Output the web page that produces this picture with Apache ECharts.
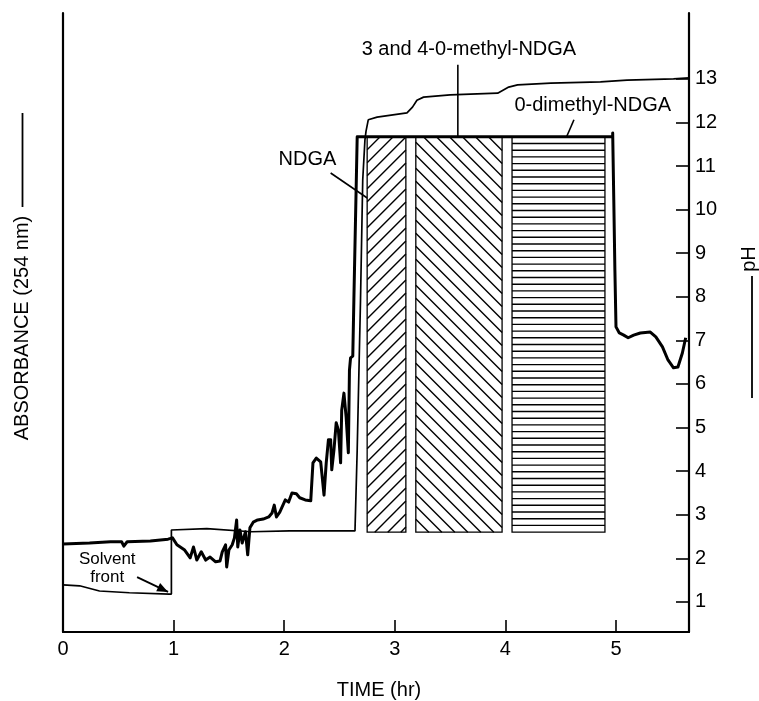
<!DOCTYPE html>
<html>
<head>
<meta charset="utf-8">
<script src="https://cdn.jsdelivr.net/npm/echarts@6/dist/echarts.min.js"></script>
<style>html,body{margin:0;padding:0;background:#fff}#c{width:759px;height:701px}</style>
</head>
<body>
<div id="c"></div>
<script>
// ---------- data ----------
const timeTicks = [0, 1, 2, 3, 4, 5];
const pHTicks = [1, 2, 3, 4, 5, 6, 7, 8, 9, 10, 11, 12, 13];

// absorbance trace (arbitrary units, read on the pH scale)
const absorbanceTrace = [
  [0, 2.33], [0.24, 2.35], [0.43, 2.38], [0.53, 2.38], [0.55, 2.28], [0.58, 2.38],
  [0.79, 2.40], [0.95, 2.44], [0.99, 2.47], [1.03, 2.31], [1.10, 2.19], [1.15, 2.01],
  [1.18, 2.26], [1.21, 1.96], [1.25, 2.15], [1.29, 1.96], [1.33, 2.03], [1.38, 1.92],
  [1.42, 1.94], [1.44, 2.15], [1.47, 2.31], [1.48, 1.80], [1.50, 2.19], [1.53, 2.31],
  [1.55, 2.47], [1.57, 2.88], [1.58, 2.26], [1.60, 2.65], [1.62, 2.35], [1.65, 2.61],
  [1.67, 2.08], [1.69, 2.70], [1.72, 2.83], [1.76, 2.88], [1.81, 2.90], [1.86, 2.95],
  [1.89, 3.04], [1.91, 3.22], [1.93, 2.95], [1.96, 3.06], [2.01, 3.34], [2.04, 3.29],
  [2.07, 3.50], [2.11, 3.48], [2.14, 3.39], [2.19, 3.34], [2.24, 3.32], [2.26, 4.19],
  [2.29, 4.30], [2.33, 4.21], [2.34, 3.96], [2.36, 3.45], [2.38, 4.19], [2.40, 4.72],
  [2.42, 4.72], [2.43, 4.03], [2.45, 4.49], [2.47, 5.11], [2.49, 4.94], [2.51, 4.19],
  [2.52, 5.40], [2.54, 5.79], [2.56, 5.24], [2.58, 4.42], [2.59, 6.32], [2.60, 6.60],
  [2.62, 6.64], [2.63, 7.93], [2.66, 11.67], [4.97, 11.67], [4.97, 11.76], [4.98, 10.22],
  [4.99, 8.61], [5.00, 7.31], [5.03, 7.17], [5.07, 7.12], [5.11, 7.06], [5.16, 7.12],
  [5.22, 7.17], [5.31, 7.19], [5.36, 7.08], [5.42, 6.85], [5.47, 6.55], [5.52, 6.37],
  [5.56, 6.39], [5.60, 6.71], [5.63, 7.06]
];

// pH trace
const pHTrace = [
  [0, 1.39], [0.15, 1.37], [0.33, 1.25], [0.60, 1.21], [0.96, 1.18], [0.98, 1.18],
  [0.98, 2.65], [1.30, 2.68], [1.70, 2.61], [2.05, 2.63], [2.64, 2.63],
  [2.66, 4.49], [2.69, 7.93], [2.71, 10.68], [2.73, 11.60], [2.74, 11.80], [2.76, 12.06],
  [2.84, 12.12], [3.11, 12.22], [3.16, 12.35], [3.20, 12.51], [3.26, 12.58], [3.50, 12.63],
  [3.93, 12.67], [4.03, 12.81], [4.11, 12.86], [4.41, 12.90], [4.86, 12.93], [5.10, 12.97],
  [5.52, 13.00], [5.66, 13.02]
];

// collected fractions (time window and drawn band)
const fractionNames = ['NDGA', '3 and 4-0-methyl-NDGA', '0-dimethyl-NDGA'];
const fractionStart = [2.75, 3.19, 4.06];
const fractionEnd = [3.10, 3.97, 4.90];
const fractionLow = [2.6, 2.6, 2.6];
const fractionHigh = [11.67, 11.67, 11.67];

// annotation anchors (data units)
const labelAnchors = [[2.21, 11.14], [3.67, 13.68], [4.79, 12.38]];
const leaderStart = [[2.42, 10.84], [3.57, 13.32], [4.62, 12.06]];
const leaderEnd = [[2.87, 10.06], [3.57, 11.25], [4.43, 10.95]];
const solventText = 'Solvent\nfront';
const solventAnchor = [0.40, 1.76];
const solventArrow = [[0.67, 1.57], [0.95, 1.23]];

// ---------- styles ----------
const FONT = 'Liberation Sans, Arial, Helvetica, sans-serif';
const hatchKinds = ['fwd', 'back', 'horiz'];

const chart = echarts.init(document.getElementById('c'));

const fractionData = fractionStart.map((s, i) => [s, fractionEnd[i], fractionLow[i], fractionHigh[i]]);

function renderFraction(params, api) {
  const p0 = api.coord([api.value(0), api.value(3)]);
  const p1 = api.coord([api.value(1), api.value(2)]);
  const x0 = p0[0], y0 = p0[1], x1 = p1[0], y1 = p1[1];
  const kind = hatchKinds[params.dataIndex];
  const children = [{
    type: 'rect', shape: {x: x0, y: y0, width: x1 - x0, height: y1 - y0},
    style: {fill: '#fff', stroke: '#000', lineWidth: 1.3}
  }];
  const ls = {stroke: '#000', lineWidth: 1.4};
  if (kind === 'horiz') {
    const s = 6.7;
    for (let y = y0 + s; y < y1 - 1; y += s) {
      children.push({type: 'line', shape: {x1: x0, y1: y, x2: x1, y2: y}, style: ls});
    }
  } else if (kind === 'fwd') {
    const s = 13;
    for (let c = x0 + y0 + s; c < x1 + y1; c += s) {
      const xa = Math.max(x0, c - y1), xb = Math.min(x1, c - y0);
      if (xa < xb) children.push({type: 'line', shape: {x1: xa, y1: c - xa, x2: xb, y2: c - xb}, style: ls});
    }
  } else {
    const s = 13;
    for (let c = x0 - y1 + s; c < x1 - y0; c += s) {
      const xa = Math.max(x0, y0 + c), xb = Math.min(x1, y1 + c);
      if (xa < xb) children.push({type: 'line', shape: {x1: xa, y1: xa - c, x2: xb, y2: xb - c}, style: ls});
    }
  }
  return {type: 'group', children: children};
}

const yMin = 0.31, yMax = 14.51;

chart.setOption({
  backgroundColor: '#fff',
  animation: false,
  grid: {left: 63, right: 70, top: 13, bottom: 69},
  xAxis: {
    type: 'value', min: 0, max: 5.66,
    axisLine: {show: true, onZero: false, lineStyle: {color: '#000', width: 2.2}},
    axisTick: {show: true, inside: true, length: 12, customValues: timeTicks.slice(1), lineStyle: {color: '#000', width: 1.6}},
    axisLabel: {customValues: timeTicks, color: '#000', fontSize: 20, fontFamily: FONT, margin: 7},
    splitLine: {show: false}
  },
  yAxis: [{
    type: 'value', position: 'right', min: yMin, max: yMax,
    axisLine: {show: true, onZero: false, lineStyle: {color: '#000', width: 2.2}},
    axisTick: {show: true, inside: true, length: 13, customValues: pHTicks, lineStyle: {color: '#000', width: 1.6}},
    axisLabel: {customValues: pHTicks, color: '#000', fontSize: 20, fontFamily: FONT, margin: 6},
    splitLine: {show: false}
  }, {
    type: 'value', position: 'left', min: yMin, max: yMax,
    axisLine: {show: true, onZero: false, lineStyle: {color: '#000', width: 2.2}},
    axisTick: {show: false}, axisLabel: {show: false}, splitLine: {show: false}
  }],
  series: [{
    type: 'custom', name: 'fractions', renderItem: renderFraction,
    data: fractionData, encode: {x: [0, 1], y: [2, 3]}, z: 1, silent: true
  }, {
    type: 'line', name: 'pH', yAxisIndex: 0, data: pHTrace, showSymbol: false, symbol: 'none',
    lineStyle: {color: '#000', width: 1.7}, z: 2
  }, {
    type: 'line', name: 'Absorbance', yAxisIndex: 1, data: absorbanceTrace, showSymbol: false, symbol: 'none',
    lineStyle: {color: '#000', width: 3, join: 'round'}, z: 3
  }]
});

// ---------- annotations ----------
const px = p => chart.convertToPixel({xAxisIndex: 0, yAxisIndex: 0}, p);
const g = [];
fractionNames.forEach((name, i) => {
  const a = px(labelAnchors[i]);
  g.push({type: 'text', x: a[0], y: a[1], style: {text: name, font: '20px ' + FONT, fill: '#000', align: 'center', verticalAlign: 'middle'}});
  const s = px(leaderStart[i]), e = px(leaderEnd[i]);
  g.push({type: 'line', shape: {x1: s[0], y1: s[1], x2: e[0], y2: e[1]}, style: {stroke: '#000', lineWidth: 1.6}});
});
const sa = px(solventAnchor);
g.push({type: 'text', x: sa[0], y: sa[1], style: {text: solventText, font: '17px ' + FONT, fill: '#000', align: 'center', verticalAlign: 'middle', lineHeight: 18}});
const as = px(solventArrow[0]), ae = px(solventArrow[1]);
g.push({type: 'line', shape: {x1: as[0], y1: as[1], x2: ae[0], y2: ae[1]}, style: {stroke: '#000', lineWidth: 1.8}});
(function () {
  const dx = ae[0] - as[0], dy = ae[1] - as[1], L = Math.hypot(dx, dy);
  const ux = dx / L, uy = dy / L, h = 11, w = 4.5;
  const bx = ae[0] - ux * h, by = ae[1] - uy * h;
  g.push({type: 'polygon', shape: {points: [[ae[0], ae[1]], [bx - uy * w, by + ux * w], [bx + uy * w, by - ux * w]]}, style: {fill: '#000'}});
})();
// axis titles
g.push({type: 'text', x: 22, y: 328, rotation: Math.PI / 2, style: {text: 'ABSORBANCE (254 nm)', font: '20px ' + FONT, fill: '#000', align: 'center', verticalAlign: 'middle'}});
g.push({type: 'line', shape: {x1: 22.5, y1: 113, x2: 22.5, y2: 207}, style: {stroke: '#000', lineWidth: 1.8}});
g.push({type: 'text', x: 749, y: 259, rotation: Math.PI / 2, style: {text: 'pH', font: '20px ' + FONT, fill: '#000', align: 'center', verticalAlign: 'middle'}});
g.push({type: 'line', shape: {x1: 752, y1: 276, x2: 752, y2: 398}, style: {stroke: '#000', lineWidth: 1.8}});
g.push({type: 'text', x: 379, y: 690, style: {text: 'TIME (hr)', font: '20px ' + FONT, fill: '#000', align: 'center', verticalAlign: 'middle'}});
chart.setOption({graphic: g});
</script>
</body>
</html>
